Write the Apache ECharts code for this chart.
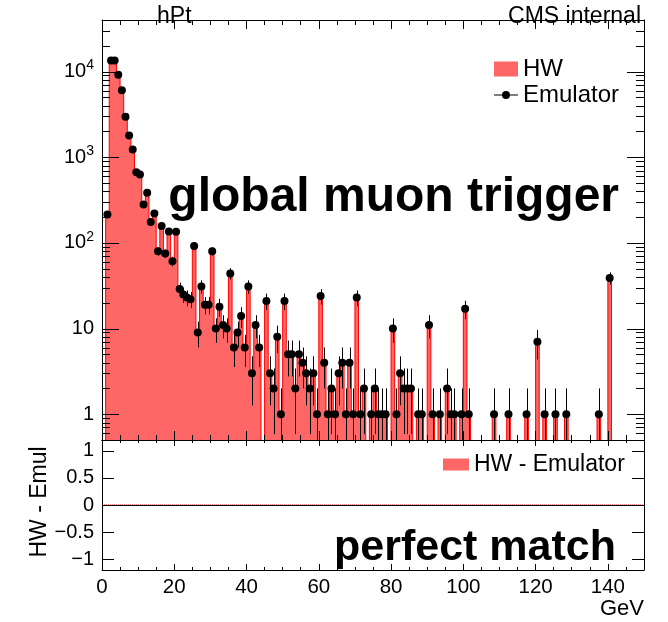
<!DOCTYPE html>
<html>
<head>
<meta charset="utf-8">
<script src="https://cdn.jsdelivr.net/npm/echarts@6/dist/echarts.min.js"></script>
<style>
html,body{margin:0;padding:0;background:#fff;}
#wrap{position:relative;width:668px;height:622px;}
#chart,#ticks{position:absolute;left:0;top:0;width:668px;height:622px;}
#ticks{pointer-events:none;}
</style>
</head>
<body>
<div id="wrap"><div id="chart"></div><div id="ticks"></div></div>
<script>
// ---------------- data ----------------
const binLowEdge = 0;      // GeV, first bin lower edge
const binWidth = 1;        // GeV
// hPt histogram contents, one value per 1 GeV bin (0-150 GeV)
const hwCounts = [
  0, 215, 13500, 13500, 9200, 6050, 2960, 1790, 1230, 670,
  630, 281, 385, 175, 221, 80, 157, 75, 136, 61,
  135, 29, 25, 23, 22, 92, 9, 31, 19, 19,
  80, 10, 18, 11, 10, 44, 6, 9, 14, 6,
  31, 3, 11, 6, 0, 21, 3, 2, 8, 1,
  21, 5, 5, 2, 5, 4, 3, 2, 3, 1,
  24, 4, 1, 2, 1, 3, 4, 1, 4, 1,
  23, 1, 2, 0, 1, 2, 1, 1, 1, 0,
  10, 1, 3, 2, 2, 2, 0, 1, 1, 0,
  11, 1, 0, 1, 0, 2, 1, 1, 0, 1,
  17, 1, 0, 0, 0, 0, 0, 0, 1, 0,
  0, 0, 1, 0, 0, 0, 0, 1, 0, 0,
  7, 0, 1, 0, 0, 1, 0, 0, 1, 0,
  0, 0, 0, 0, 0, 0, 0, 1, 0, 0,
  39, 0, 0, 0, 0, 0, 0, 0, 0, 0
];
const emulatorCounts = [
  0, 215, 13500, 13500, 9200, 6050, 2960, 1790, 1230, 670,
  630, 281, 385, 175, 221, 80, 157, 75, 136, 61,
  135, 29, 25, 23, 22, 92, 9, 31, 19, 19,
  80, 10, 18, 11, 10, 44, 6, 9, 14, 6,
  31, 3, 11, 6, 0, 21, 3, 2, 8, 1,
  21, 5, 5, 2, 5, 4, 3, 2, 3, 1,
  24, 4, 1, 2, 1, 3, 4, 1, 4, 1,
  23, 1, 2, 0, 1, 2, 1, 1, 1, 0,
  10, 1, 3, 2, 2, 2, 0, 1, 1, 0,
  11, 1, 0, 1, 0, 2, 1, 1, 0, 1,
  17, 1, 0, 0, 0, 0, 0, 0, 1, 0,
  0, 0, 1, 0, 0, 0, 0, 1, 0, 0,
  7, 0, 1, 0, 0, 1, 0, 0, 1, 0,
  0, 0, 0, 0, 0, 0, 0, 1, 0, 0,
  39, 0, 0, 0, 0, 0, 0, 0, 0, 0
];
const xTickValues = [0, 20, 40, 60, 80, 100, 120, 140];
const logTickValues = [1, 10, 100, 1000, 10000];
const ratioTickValues = [-1, -0.5, 0, 0.5, 1];

// ---------------- axis ranges / layout ----------------
const X_MIN = 0, X_MAX = 150;
const Y_LOG_MIN = 0.5, Y_LOG_MAX = 40000;
const Y_RATIO_MIN = -1.2, Y_RATIO_MAX = 1.2;
const FONT = '"Liberation Sans", Arial, Helvetica, sans-serif';
const GRIDS = [
  {left: 102, right: 24, top: 20, height: 420, containLabel: false, outerBoundsMode: 'none'},
  {left: 102, right: 24, top: 440, height: 130, containLabel: false, outerBoundsMode: 'none'}
];
const black = '#000';

// log-axis minor tick values 2..9 per decade (axis decoration)
const logMinorTickValues = [];
for (let d = -1; d <= 4; d++) {
  for (let m = 2; m <= 9; m++) {
    const v = +(m * Math.pow(10, d)).toPrecision(3);
    if (v > Y_LOG_MIN && v < Y_LOG_MAX) logMinorTickValues.push(v);
  }
}
const logTickMarks = logTickValues.map(v => [X_MAX / 2, v, 1])
  .concat(logMinorTickValues.map(v => [X_MAX / 2, v, 0]));
const ratioTickMarks = ratioTickValues.map(v => [X_MAX / 2, v, 1]);

// ---------------- derived series data ----------------
const EMPTY_FLOOR = 0.05; // below the log axis minimum -> clipped away
const hwStep = hwCounts.map((v, i) => [binLowEdge + i * binWidth, v > 0 ? v : EMPTY_FLOOR]);
hwStep.push([binLowEdge + hwCounts.length * binWidth, hwStep[hwStep.length - 1][1]]);

const emuPoints = [];
emulatorCounts.forEach((v, i) => {
  if (v > 0) emuPoints.push([binLowEdge + (i + 0.5) * binWidth, v]);
});

const diffCounts = hwCounts.map((v, i) => v - emulatorCounts[i]);
const diffStep = diffCounts.map((v, i) => [binLowEdge + i * binWidth, v]);
diffStep.push([binLowEdge + diffCounts.length * binWidth, diffCounts[diffCounts.length - 1]]);

// tick marks on both frame edges, positioned through the axis scale (api.coord)
function sideTicks(majorLen, minorLen) {
  return function (params, api) {
    const len = api.value(2) === 1 ? majorLen : minorLen;
    const y = Math.round(api.coord([api.value(0), api.value(1)])[1]);
    const cs = params.coordSys;
    const xl = Math.round(cs.x), xr = Math.round(cs.x + cs.width);
    return {
      type: 'group', children: [
        {type: 'rect', shape: {x: xl, y: y, width: len, height: 1}, style: {fill: black}},
        {type: 'rect', shape: {x: xr - len, y: y, width: len, height: 1}, style: {fill: black}}
      ]
    };
  };
}

// ---------------- y-axis tick overlay (same grids and axis ranges) ----------------
try {
  const tickChart = echarts.init(document.getElementById('ticks'));
  tickChart.setOption({
    animation: false,
    backgroundColor: 'rgba(0,0,0,0)',
    grid: GRIDS,
    xAxis: [
      {gridIndex: 0, type: 'value', min: X_MIN, max: X_MAX, show: false},
      {gridIndex: 1, type: 'value', min: X_MIN, max: X_MAX, show: false}
    ],
    yAxis: [
      {gridIndex: 0, type: 'log', min: Y_LOG_MIN, max: Y_LOG_MAX, show: false},
      {gridIndex: 1, type: 'value', min: Y_RATIO_MIN, max: Y_RATIO_MAX, show: false}
    ],
    series: [
      {type: 'custom', xAxisIndex: 0, yAxisIndex: 0, silent: true, data: logTickMarks, renderItem: sideTicks(17, 8)},
      {type: 'custom', xAxisIndex: 1, yAxisIndex: 1, silent: true, data: ratioTickMarks, renderItem: sideTicks(12, 12)}
    ]
  });
} catch (e) { /* overlay is decoration only */ }

// ---------------- main chart ----------------
function xAxisCfg(grid, pos, opts) {
  return Object.assign({
    gridIndex: grid, type: 'value', position: pos, min: X_MIN, max: X_MAX, interval: 20, z: 10,
    axisLine: {show: true, onZero: false, lineStyle: {color: black, width: 1}},
    axisTick: {show: true, inside: true, length: 9, lineStyle: {color: black, width: 1}},
    minorTick: {show: true, splitNumber: 4, length: 5, lineStyle: {color: black, width: 1}},
    axisLabel: {show: false},
    splitLine: {show: false}, minorSplitLine: {show: false}
  }, opts || {});
}

const option = {
  animation: false,
  backgroundColor: '#fff',
  textStyle: {fontFamily: FONT},
  grid: GRIDS,
  title: [
    {text: 'hPt', left: 152, top: 0, textStyle: {fontFamily: FONT, fontSize: 23, fontWeight: 'normal', color: black}},
    {text: 'CMS internal', right: 22, top: 0, textStyle: {fontFamily: FONT, fontSize: 23, fontWeight: 'normal', color: black}}
  ],
  legend: [
    {
      orient: 'vertical', left: 489, top: 52, itemWidth: 24, itemHeight: 15, itemGap: 2,
      selectedMode: false,
      textStyle: {fontFamily: FONT, fontSize: 24, color: black},
      data: [
        {name: 'HW', icon: 'rect', itemStyle: {color: 'rgba(255,0,0,0.6)', opacity: 1}},
        {name: 'Emulator', icon: 'path://M0,7.5L24,7.5L24,8.5L0,8.5Z M16,8A4,4,0,1,1,8,8A4,4,0,1,1,16,8Z', itemStyle: {color: black, opacity: 1}}
      ]
    },
    {
      orient: 'vertical', left: 438, top: 448, itemWidth: 26, itemHeight: 12,
      selectedMode: false,
      textStyle: {fontFamily: FONT, fontSize: 23, color: black},
      data: [{name: 'HW - Emulator', icon: 'rect', itemStyle: {color: 'rgba(255,0,0,0.6)', opacity: 1}}]
    }
  ],
  xAxis: [
    xAxisCfg(0, 'bottom'),
    xAxisCfg(0, 'top'),
    xAxisCfg(1, 'bottom', {
      axisTick: {show: true, inside: true, length: 6, lineStyle: {color: black, width: 1}},
      minorTick: {show: true, splitNumber: 4, length: 3, lineStyle: {color: black, width: 1}},
      axisLabel: {show: true, color: black, fontSize: 20.5, fontFamily: FONT, margin: 7,
                  customValues: xTickValues}
    }),
    xAxisCfg(1, 'top', {
      axisTick: {show: true, inside: true, length: 6, lineStyle: {color: black, width: 1}},
      minorTick: {show: true, splitNumber: 4, length: 3, lineStyle: {color: black, width: 1}}
    })
  ],
  yAxis: [
    {
      gridIndex: 0, type: 'log', position: 'left', min: Y_LOG_MIN, max: Y_LOG_MAX, z: 10,
      axisLine: {show: true, onZero: false, lineStyle: {color: black, width: 1}},
      axisTick: {show: false},
      splitLine: {show: false},
      axisLabel: {
        show: true, color: black, fontSize: 20, fontFamily: FONT, margin: 8,
        showMinLabel: false, showMaxLabel: false,
        formatter: function (v) {
          const e = Math.round(Math.log10(v));
          if (Math.abs(Math.pow(10, e) - v) > 1e-6 * v) return '';
          return e <= 1 ? String(Math.round(v)) : '10{sup|' + e + '}';
        },
        rich: {sup: {fontSize: 14, fontFamily: FONT, color: black, padding: [0, 0, 12, 0]}}
      }
    },
    {
      gridIndex: 0, type: 'log', position: 'right', min: Y_LOG_MIN, max: Y_LOG_MAX, z: 10,
      axisLine: {show: true, onZero: false, lineStyle: {color: black, width: 1}},
      axisTick: {show: false},
      splitLine: {show: false}, axisLabel: {show: false}
    },
    {
      gridIndex: 1, type: 'value', position: 'left', min: Y_RATIO_MIN, max: Y_RATIO_MAX, z: 10,
      axisLine: {show: true, onZero: false, lineStyle: {color: black, width: 1}},
      axisTick: {show: false},
      splitLine: {show: false},
      axisLabel: {
        show: true, color: black, fontSize: 20, fontFamily: FONT, margin: 8, customValues: ratioTickValues,
        formatter: v => (v < 0 ? '\u2212' + Math.abs(v) : String(v))
      }
    },
    {
      gridIndex: 1, type: 'value', position: 'right', min: Y_RATIO_MIN, max: Y_RATIO_MAX, z: 10,
      axisLine: {show: true, onZero: false, lineStyle: {color: black, width: 1}},
      axisTick: {show: false},
      splitLine: {show: false}, axisLabel: {show: false}
    }
  ],
  series: [
    {
      name: 'HW', type: 'line', xAxisIndex: 0, yAxisIndex: 0, step: 'end',
      data: hwStep, symbol: 'none', clip: true, z: 2,
      lineStyle: {color: '#ff0000', width: 1, opacity: 1},
      itemStyle: {color: '#ff0000'},
      areaStyle: {color: 'rgba(255,0,0,0.6)', opacity: 1, origin: Y_LOG_MIN}
    },
    {
      name: 'EmulatorErrors', type: 'custom', xAxisIndex: 0, yAxisIndex: 0, silent: true, z: 4,
      data: emuPoints,
      renderItem: function (params, api) {
        const x = api.value(0), v = api.value(1);
        const err = Math.sqrt(v);
        const cs = params.coordSys;
        const yTop = cs.y, yBot = cs.y + cs.height;
        const clampY = y => Math.min(Math.max(isFinite(y) ? y : yBot, yTop), yBot);
        const c = api.coord([x, v]);
        const hi = clampY(api.coord([x, v + err])[1]);
        const lo = v - err > 0 ? clampY(api.coord([x, v - err])[1]) : yBot;
        const l = api.coord([x - binWidth / 2, v]);
        const r = api.coord([x + binWidth / 2, v]);
        const cx = Math.round(c[0]) + 0.5;
        return {
          type: 'group', children: [
            {type: 'line', shape: {x1: cx, y1: hi, x2: cx, y2: lo}, style: {stroke: black, lineWidth: 1}},
            {type: 'line', shape: {x1: l[0], y1: c[1], x2: r[0], y2: c[1]}, style: {stroke: black, lineWidth: 1}}
          ]
        };
      }
    },
    {
      name: 'Emulator', type: 'scatter', xAxisIndex: 0, yAxisIndex: 0, z: 5,
      data: emuPoints, symbol: 'circle', symbolSize: 8,
      itemStyle: {color: black, opacity: 1}
    },
    {
      name: 'zeroLine', type: 'line', xAxisIndex: 2, yAxisIndex: 2, data: [], z: 3, silent: true,
      markLine: {
        silent: true, symbol: 'none', label: {show: false},
        lineStyle: {color: black, type: 'solid', width: 1},
        data: [{yAxis: 0}]
      }
    },
    {
      name: 'HW - Emulator', type: 'line', xAxisIndex: 2, yAxisIndex: 2, step: 'end',
      data: diffStep, symbol: 'none', z: 4,
      lineStyle: {color: '#ff0000', width: 1, type: 'dotted'},
      itemStyle: {color: '#ff0000'}
    }
  ],
  graphic: {elements: [
    {type: 'text', x: 619, y: 198, z: 10, silent: true,
     style: {text: 'global muon trigger', fontFamily: FONT, fontSize: 48, fontWeight: 'bold', fill: black, align: 'right', verticalAlign: 'middle'}},
    {type: 'text', x: 616, y: 548, z: 10, silent: true,
     style: {text: 'perfect match', fontFamily: FONT, fontSize: 43, fontWeight: 'bold', fill: black, align: 'right', verticalAlign: 'middle'}},
    {type: 'text', x: 644, y: 609, z: 10, silent: true,
     style: {text: 'GeV', fontFamily: FONT, fontSize: 22, fill: black, align: 'right', verticalAlign: 'middle'}},
    {type: 'text', x: 40, y: 502, rotation: Math.PI / 2, z: 10, silent: true,
     style: {text: 'HW - Emul', fontFamily: FONT, fontSize: 23, fill: black, align: 'center', verticalAlign: 'middle'}}
  ]}
};

try {
  const chart = echarts.init(document.getElementById('chart'), null, {renderer: 'canvas'});
  chart.setOption(option);
} catch (e) { /* keep whatever was drawn */ }
</script>
</body>
</html>
